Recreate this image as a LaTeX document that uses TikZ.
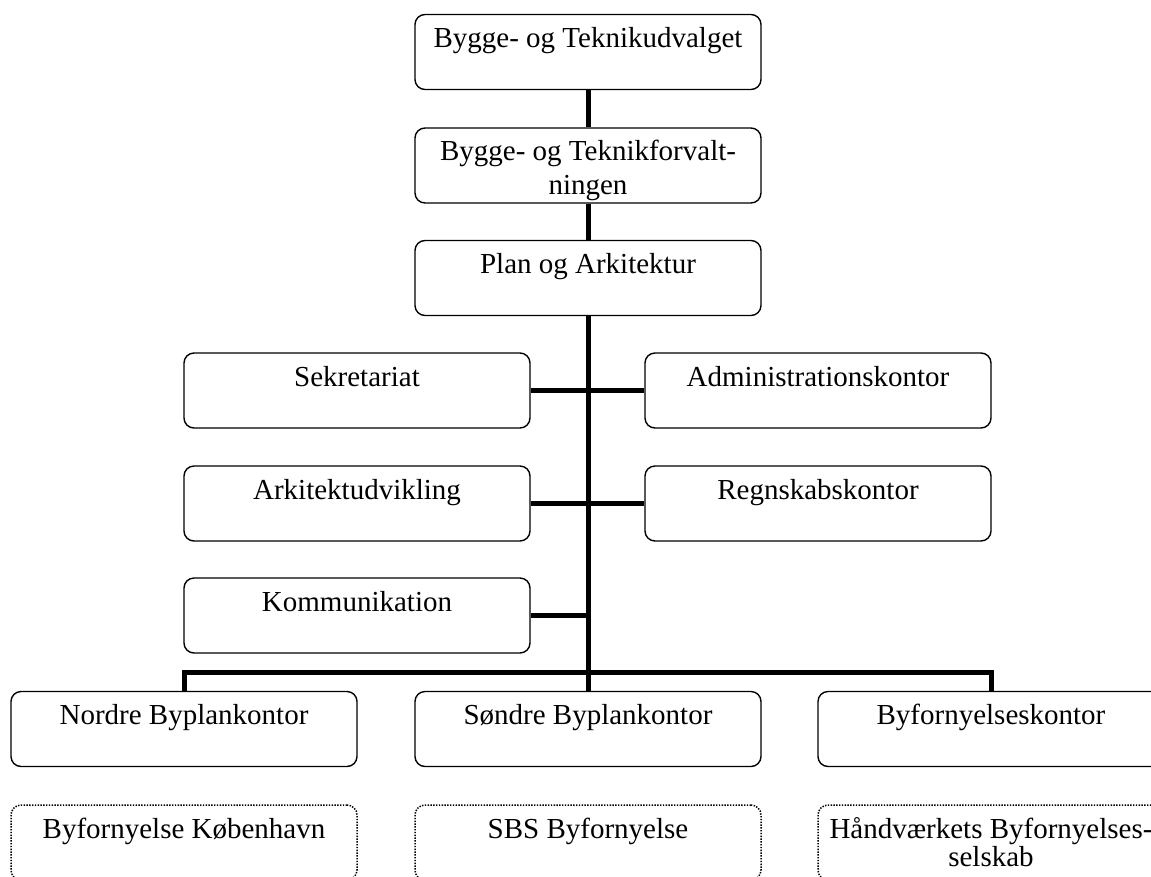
\documentclass[tikz,border=0pt]{standalone}
\usepackage{fontspec}
\setmainfont{Liberation Serif}
\begin{document}
\begin{tikzpicture}[x=1pt,y=-1pt,
  box/.style={draw=black, line width=1.4pt, rounded corners=10pt, fill=white,
    minimum width=346pt, minimum height=75pt, inner sep=0pt},
  dbox/.style={draw=black, line width=1.5pt, dash pattern=on 1.4pt off 1.4pt,
    rounded corners=10pt, fill=white, minimum width=346pt, minimum height=75pt, inner sep=0pt},
  lbl/.style={anchor=base, inner sep=0pt, font=\fontsize{29}{34}\selectfont, align=center},
  lbltwo/.style={anchor=base, inner sep=0pt, font=\fontsize{29}{28}\selectfont, align=center},
  conn/.style={line width=5pt}]
\clip (0,0) rectangle (1151,876);
\coordinate (busL) at (184,672);
\coordinate (busR) at (991,672);
% boxes
\node[box] (t1) at (588,52) {};
\node[box] (t2) at (588,165.5) {};
\node[box] (t3) at (588,278) {};
\node[box] (sek) at (357,390.5) {};
\node[box] (adm) at (818,390.5) {};
\node[box] (ark) at (357,503.5) {};
\node[box] (reg) at (818,503.5) {};
\node[box] (kom) at (357,615.5) {};
\node[box] (nor) at (184,729) {};
\node[box] (son) at (588,729) {};
\node[box] (byf) at (991,729) {};
\node[dbox] (bk) at (184,842.5) {};
\node[dbox] (sbs) at (588,842.5) {};
\node[dbox] (hbs) at (991,842.5) {};
% connectors
\draw[conn] (t1.south) -- (t2.north);
\draw[conn] (t2.south) -- (t3.north);
\draw[conn] (t3.south) -- (son.north);
\draw[conn] (sek.east) -- (adm.west);
\draw[conn] (ark.east) -- (reg.west);
\draw[conn] (kom.east) -- (kom.east -| t3.south);
\draw[conn] (nor.north) -- (busL) -- (busR) -- (byf.north);
% labels
\node[lbl] (t1l) at (588,47) {Bygge- og Teknikudvalget};
\node[lbl] (t2l) at (588,194) {Bygge- og Teknikforvalt-\\ningen};
\node[lbl] (t3l) at (588,273) {Plan og Arkitektur};
\node[lbl] (sekl) at (357,386) {Sekretariat};
\node[lbl] (adml) at (818,386) {Administrationskontor};
\node[lbl] (arkl) at (357,499) {Arkitektudvikling};
\node[lbl] (regl) at (818,499) {Regnskabskontor};
\node[lbl] (koml) at (357,611) {Kommunikation};
\node[lbl] (norl) at (184,724) {Nordre Byplankontor};
\node[lbl] (sonl) at (588,724) {Søndre Byplankontor};
\node[lbl] (byfl) at (991,724) {Byfornyelseskontor};
\node[lbl] (bkl) at (184,838) {Byfornyelse København};
\node[lbl] (sbsl) at (588,838) {SBS Byfornyelse};
\node[lbltwo] (hbsl) at (991,866) {Håndværkets Byfornyelses-\\selskab};
\end{tikzpicture}
\end{document}
